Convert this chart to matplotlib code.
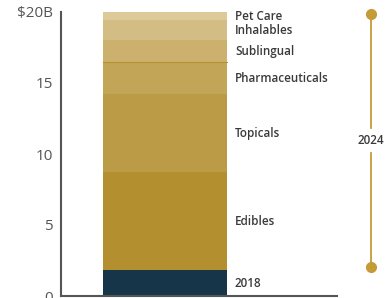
"""Stacked bar: 2018 market vs 2024 segment growth, with a timeline bracket."""
import matplotlib
matplotlib.use("Agg")
import matplotlib.pyplot as plt

plt.rcParams["font.family"] = ["Open Sans", "DejaVu Sans"]

# segments, bottom to top ($B)
SEGMENTS = ["2018", "Edibles", "Topicals", "Pharmaceuticals",
            "Sublingual", "Inhalables", "Pet Care"]
VALUES = [1.8, 6.95, 5.5, 2.25, 1.55, 1.36, 0.59]
COLORS = ["#173548", "#b48f2f", "#bc9b47", "#c3a558",
          "#cbb16d", "#d3bd84", "#dcca98"]

Y_TICKS = [0, 5, 10, 15, 20]
Y_TICK_LABELS = ["0", "5", "10", "15", "$20B"]

TIMELINE_LABEL = "2024"
GOLD = "#c49b36"
AXIS_GREY = "#555555"
LABEL_SIZE = 8.4


def main():
    fig = plt.figure(figsize=(3.85, 2.98), dpi=100)
    ax = fig.add_axes([61 / 385, 2 / 298, 276 / 385, 284 / 298])

    bar_x, bar_w = 0.377, 0.449
    bottom = 0.0
    for name, val, col in zip(SEGMENTS, VALUES, COLORS):
        ax.bar(bar_x, val, width=bar_w, bottom=bottom, color=col,
               linewidth=0)
        ax.text(0.63, bottom + val / 2 - 0.05, name, va="center", ha="left",
                fontsize=LABEL_SIZE, fontweight="semibold", color="#3a3a3a")
        if name == "Pharmaceuticals":
            # thin darker seam on top of this segment
            ax.plot([bar_x - bar_w / 2, bar_x + bar_w / 2],
                    [bottom + val] * 2, color="#b8922e", lw=0.8)
        bottom += val
    total = bottom

    ax.set_xlim(0, 1)
    ax.set_ylim(0, 20)
    ax.set_yticks(Y_TICKS)
    ax.set_yticklabels(Y_TICK_LABELS)
    ax.set_xticks([])
    ax.tick_params(axis="y", length=0, pad=6, labelsize=11,
                   labelcolor=AXIS_GREY)
    for side in ("top", "right"):
        ax.spines[side].set_visible(False)
    for side in ("left", "bottom"):
        ax.spines[side].set_color(AXIS_GREY)
        ax.spines[side].set_linewidth(1.5)

    # timeline bracket to the right of the axes
    tx = 1.123
    top_y = total - 0.15
    bot_y = VALUES[0] + 0.25
    mid_y = (top_y + bot_y) / 2
    gap = 0.9
    kw = dict(color=GOLD, lw=1.3, clip_on=False)
    ax.plot([tx, tx], [top_y, mid_y + gap], **kw)
    ax.plot([tx, tx], [mid_y - gap, bot_y], **kw)
    ax.plot([tx, tx], [top_y, bot_y], ls="none", marker="o", ms=7,
            color=GOLD, clip_on=False)
    ax.text(tx, mid_y, TIMELINE_LABEL, ha="center", va="center",
            fontsize=LABEL_SIZE, fontweight="semibold", color="#3a3a3a")

    fig.savefig("out.png", dpi=100)


if __name__ == "__main__":
    main()
